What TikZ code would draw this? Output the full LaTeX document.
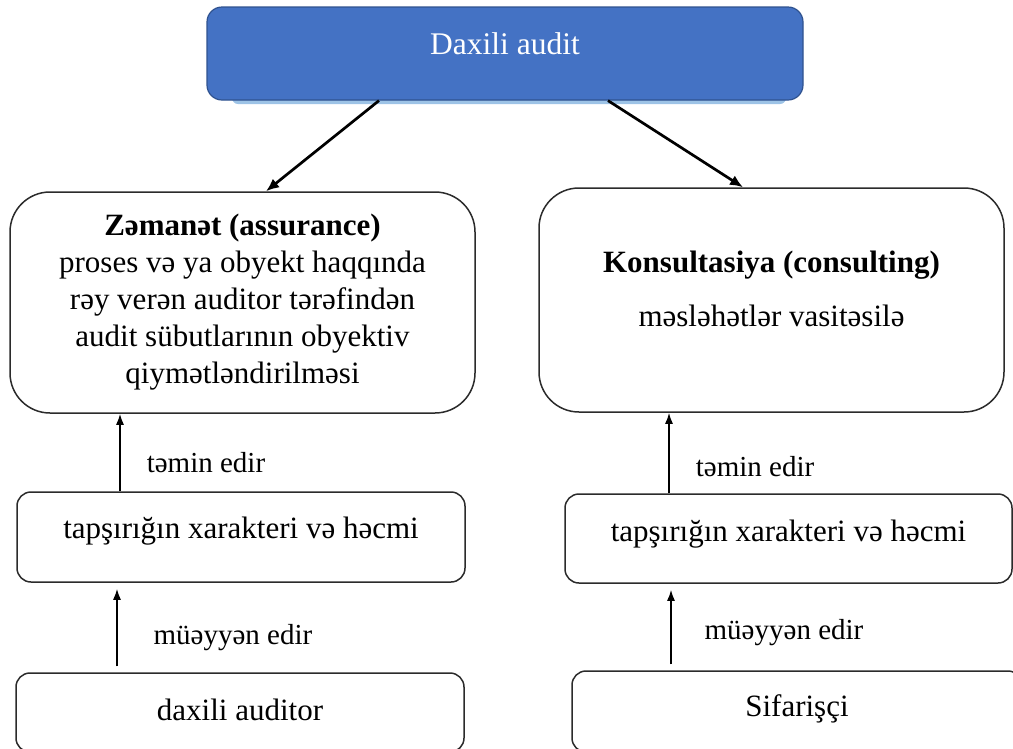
\documentclass[tikz,border=0pt]{standalone}
\usepackage{fontspec}
\setmainfont{Liberation Serif}
\usetikzlibrary{arrows.meta}
\definecolor{topfill}{HTML}{4472C4}
\definecolor{topline}{HTML}{2F528F}
\definecolor{shadowblue}{HTML}{9DC3E6}
\definecolor{edge}{HTML}{2B2B2B}
\newcommand{\lift}[2]{\raisebox{#1}[\height][\depth]{#2}}
\tikzset{
  bigbox/.style={draw=edge, line width=1.5pt, rounded corners=40pt, fill=white, inner sep=0pt},
  smallbox/.style={draw=edge, line width=1.5pt, rounded corners=14pt, fill=white, inner sep=0pt},
  boxtext/.style={font=\fontsize{31}{37}\selectfont},
  lbl/.style={font=\fontsize{29}{34}\selectfont, inner sep=0pt},
  diag/.style={line width=2.7pt, -{Latex[length=13pt,width=11pt]}},
  vert/.style={line width=1.6pt, -{Latex[length=11pt,width=8pt]}},
}
\begin{document}
\begin{tikzpicture}[x=1pt,y=-1pt]
\useasboundingbox (0,0) rectangle (1013,748);
\clip (0,0) rectangle (1013,748);
% shadow strip under the top box
\fill[shadowblue, rounded corners=6pt] (232,30) rectangle (786,104);
\node[draw=topline, line width=1.2pt, fill=topfill, rounded corners=15pt,
      minimum width=596pt, minimum height=93pt, inner sep=0pt,
      text=white, font=\fontsize{31.5}{36}\selectfont] (top) at (505,53.5)
      {\lift{10pt}{Daxili audit}};
\node[bigbox, boxtext, minimum width=465pt, minimum height=221pt, align=center] (b1) at (242.5,302.5)
  {\textbf{Zəmanət (assurance)}\\proses və ya obyekt haqqında\\rəy verən auditor tərəfindən\\audit sübutlarının obyektiv\\qiymətləndirilməsi};
\node[bigbox, boxtext, minimum width=465pt, minimum height=224pt] (b2) at (771.5,300)
  {\lift{8pt}{\begin{tabular}{@{}c@{}}\textbf{Konsultasiya (consulting)}\\[17pt]məsləhətlər vasitəsilə\end{tabular}}};
\node[smallbox, boxtext, minimum width=448pt, minimum height=90pt] (b3) at (241,537)
  {\lift{6pt}{tapşırığın xarakteri və həcmi}};
\node[smallbox, boxtext, minimum width=448pt, minimum height=79pt] (b4) at (240,712.5)
  {\lift{3pt}{daxili auditor}};
\node[smallbox, boxtext, minimum width=447pt, minimum height=89pt] (b5) at (788.5,538.5)
  {\lift{4pt}{tapşırığın xarakteri və həcmi}};
\node[smallbox, boxtext, minimum width=450pt, minimum height=81pt] (b6) at (797,711.5)
  {\lift{3pt}{Sifarişçi}};
% connectors
\draw[diag] (379,0 |- top.south) -- (266,0 |- b1.north);
\draw[diag] (608,0 |- top.south) -- (743,0 |- b2.north);
\draw[vert] (120,0 |- b3.north) -- (120,0 |- b1.south);
\draw[vert, shorten <=6pt, shorten >=6pt] (117,0 |- b4.north) -- (117,0 |- b3.south);
\draw[vert] (669,0 |- b5.north) -- (669,0 |- b2.south);
\draw[vert, shorten <=6pt, shorten >=6pt] (671,0 |- b6.north) -- (671,0 |- b5.south);
% labels
\node[lbl] (l1) at (206,463) {təmin edir};
\node[lbl] (l2) at (233,638) {müəyyən edir};
\node[lbl] (l3) at (755,467) {təmin edir};
\node[lbl] (l4) at (784,633) {müəyyən edir};
\end{tikzpicture}
\end{document}
